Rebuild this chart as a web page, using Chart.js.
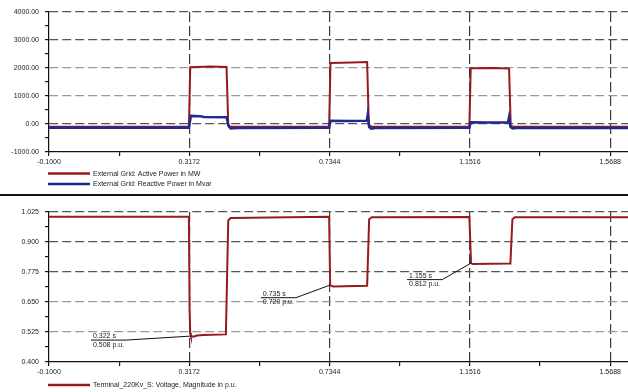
<!DOCTYPE html>
<html>
<head>
<meta charset="utf-8">
<script src="https://cdn.jsdelivr.net/npm/chart.js@4/dist/chart.umd.min.js"></script>
<style>
  body { margin: 0; background: #fff; }
  #wrap { position: relative; width: 628px; height: 392px; overflow: hidden; }
  #topChart { position: absolute; left: 0; top: 0; }
  #sep { position: absolute; left: 0; top: 194px; width: 628px; height: 2px; background: #111; }
  #bottomChart { position: absolute; left: 0; top: 197px; }
</style>
</head>
<body>
<div id="wrap">
  <canvas id="topChart" width="628" height="194"></canvas>
  <div id="sep"></div>
  <canvas id="bottomChart" width="628" height="195"></canvas>
</div>
<script>
// Time axis (s)
const xMajorTicks = [-0.1, 0.3172, 0.7344, 1.1516, 1.5688];

// Top panel: External Grid
const powerMajorTicks = [-1000, 0, 1000, 2000, 3000, 4000];
const activeLabel = 'External Grid: Active Power in MW';
const activeTimes = [-0.1, 0.316, 0.320, 0.38, 0.428, 0.433, 0.44, 0.733, 0.737, 0.80, 0.846, 0.851, 0.86, 1.150, 1.154, 1.22, 1.268, 1.273, 1.28, 1.63];
const activePower = [-100, -100, 2030, 2050, 2040, -40, -100, -100, 2180, 2200, 2210, -40, -100, -100, 1990, 2000, 1980, -60, -100, -100];

const reactiveLabel = 'External Grid: Reactive Power in Mvar';
const reactiveTimes = [-0.1, 0.316, 0.322, 0.35, 0.36, 0.428, 0.434, 0.44, 0.46, 0.733, 0.737, 0.80, 0.845, 0.848, 0.852, 0.858, 0.87, 1.150, 1.154, 1.20, 1.265, 1.268, 1.272, 1.278, 1.29, 1.63];
const reactivePower = [-130, -130, 290, 280, 250, 240, -80, -160, -140, -130, 120, 110, 120, 350, -110, -170, -140, -130, 60, 50, 60, 250, -100, -160, -140, -140];

// Bottom panel: terminal voltage
const voltageMajorTicks = [0.400, 0.525, 0.650, 0.775, 0.900, 1.025];
const voltageLabel = 'Terminal_220Kv_S: Voltage, Magnitude in p.u.';
const voltageTimes = [-0.1, 0.316, 0.318, 0.320, 0.322, 0.33, 0.34, 0.36, 0.426, 0.433, 0.44, 0.733, 0.736, 0.745, 0.846, 0.852, 0.86, 1.150, 1.155, 1.16, 1.272, 1.278, 1.285, 1.63];
const voltage = [1.005, 1.005, 0.62, 0.52, 0.508, 0.505, 0.51, 0.512, 0.515, 0.99, 1.0, 1.005, 0.72, 0.715, 0.718, 0.995, 1.003, 1.004, 0.812, 0.808, 0.81, 0.995, 1.003, 1.003];

// Marked points
const markTimes = [0.322, 0.735, 1.155];
const markValues = [0.508, 0.720, 0.812];

const FONT = "'Liberation Sans', Arial, sans-serif";
const FSIZE = 7;
const RED = '#971b1b';
const BLUE = '#1f2a90';

function withMinor(major) {
    const out = [];
    for (let i = 0; i < major.length; i++) {
        out.push(major[i]);
        if (i < major.length - 1) out.push((major[i] + major[i + 1]) / 2);
    }
    return out;
}

function toPoints(times, vals) {
    return times.map((t, i) => ({ x: t, y: vals[i] }));
}

function xScale() {
    return {
        type: 'linear',
        min: -0.1,
        max: 1.6217,
        afterBuildTicks: s => { s.ticks = withMinor(xMajorTicks).map(v => ({ value: v })); },
        afterFit: s => { s.height = 14; },
        ticks: {
            autoSkip: false, maxRotation: 0, padding: 2, color: '#222',
            font: { family: FONT, size: FSIZE },
            callback: (v, i) => (i % 2 ? '' : v.toFixed(4))
        },
        grid: {
            color: c => (c.index % 2 || c.index === 0 ? 'rgba(0,0,0,0)' : '#3a3a3a'),
            lineWidth: 1.2,
            tickColor: '#111', tickLength: 4, tickBorderDash: []
        },
        border: { display: true, color: '#111', width: 1.2, dash: [10, 4] }
    };
}

function yScale(major, digits, lightVals) {
    return {
        type: 'linear',
        min: major[0],
        max: major[major.length - 1],
        afterBuildTicks: s => { s.ticks = withMinor(major).map(v => ({ value: v })); },
        afterFit: s => { s.width = 49; },
        ticks: {
            autoSkip: false, padding: 6, color: '#222',
            font: { family: FONT, size: FSIZE },
            callback: (v, i) => (i % 2 ? '' : v.toFixed(digits))
        },
        grid: {
            color: c => {
                if (c.index % 2 || c.index === 0) return 'rgba(0,0,0,0)';
                return lightVals.some(l => Math.abs(l - c.tick.value) < 1e-9) ? '#999' : '#555';
            },
            lineWidth: 1.2,
            tickColor: '#111', tickLength: 4, tickBorderDash: []
        },
        border: { display: true, color: '#111', width: 1.2, dash: [9, 4] }
    };
}

// Legend drawn under the axis, one entry per row
const lineLegend = {
    id: 'lineLegend',
    afterDraw(chart, args, opts) {
        const ctx = chart.ctx;
        ctx.save();
        opts.items.forEach((it, i) => {
            const y = opts.top + i * opts.rowHeight;
            ctx.strokeStyle = it.color;
            ctx.lineWidth = 2.5;
            ctx.beginPath();
            ctx.moveTo(48, y);
            ctx.lineTo(90, y);
            ctx.stroke();
            ctx.fillStyle = '#222';
            ctx.font = FSIZE + 'px ' + FONT;
            ctx.textBaseline = 'middle';
            ctx.fillText(it.text, 93, y + 0.5);
        });
        ctx.restore();
    }
};

// Value call-outs with leader lines on the voltage curve
const callouts = {
    id: 'callouts',
    afterDatasetsDraw(chart, args, opts) {
        const ctx = chart.ctx;
        const xs = chart.scales.x, ys = chart.scales.y;
        ctx.save();
        ctx.font = FSIZE + 'px ' + FONT;
        markTimes.forEach((t, i) => {
            const px = xs.getPixelForValue(t);
            const py = ys.getPixelForValue(markValues[i]);
            const off = opts.offsets[i];
            const lx = px + off[0], ly = py + off[1];
            const top = t.toFixed(3) + ' s';
            const bot = markValues[i].toFixed(3) + ' p.u.';
            const w = Math.max(ctx.measureText(top).width, ctx.measureText(bot).width);
            ctx.strokeStyle = '#111';
            ctx.lineWidth = 1;
            ctx.beginPath();
            ctx.moveTo(lx - 2, ly);
            ctx.lineTo(lx + w + 2, ly);
            ctx.lineTo(px, py);
            ctx.stroke();
            ctx.fillStyle = '#222';
            ctx.textBaseline = 'bottom';
            ctx.fillText(top, lx, ly - 0.5);
            ctx.textBaseline = 'top';
            ctx.fillText(bot, lx, ly + 1);
        });
        ctx.restore();
    }
};

Chart.register(lineLegend);

new Chart(document.getElementById('topChart'), {
    type: 'line',
    data: {
        datasets: [
            { label: activeLabel, data: toPoints(activeTimes, activePower), borderColor: RED, borderWidth: 2, order: 2 },
            { label: reactiveLabel, data: toPoints(reactiveTimes, reactivePower), borderColor: BLUE, borderWidth: 2.5, order: 1 }
        ]
    },
    options: {
        responsive: false,
        animation: false,
        elements: { point: { radius: 0 }, line: { tension: 0 } },
        layout: { padding: { top: 12, bottom: 28, left: 0, right: 0 } },
        plugins: {
            legend: { display: false },
            tooltip: { enabled: false },
            lineLegend: { top: 173.5, rowHeight: 10.5, items: [
                { color: RED, text: activeLabel },
                { color: BLUE, text: reactiveLabel }
            ] }
        },
        scales: {
            x: xScale(),
            y: yScale(powerMajorTicks, 2, [1000, 2000])
        }
    }
});

new Chart(document.getElementById('bottomChart'), {
    type: 'line',
    data: {
        datasets: [
            { label: voltageLabel, data: toPoints(voltageTimes, voltage), borderColor: RED, borderWidth: 2 }
        ]
    },
    plugins: [callouts],
    options: {
        responsive: false,
        animation: false,
        elements: { point: { radius: 0 }, line: { tension: 0 } },
        layout: { padding: { top: 15, bottom: 16, left: 0, right: 0 } },
        plugins: {
            legend: { display: false },
            tooltip: { enabled: false },
            lineLegend: { top: 188, rowHeight: 10.5, items: [
                { color: RED, text: voltageLabel }
            ] },
            callouts: { offsets: [[-98, 4], [-67, 12.5], [-62, 16.5]] }
        },
        scales: {
            x: xScale(),
            y: yScale(voltageMajorTicks, 3, [0.525, 0.650])
        }
    }
});
</script>
</body>
</html>
